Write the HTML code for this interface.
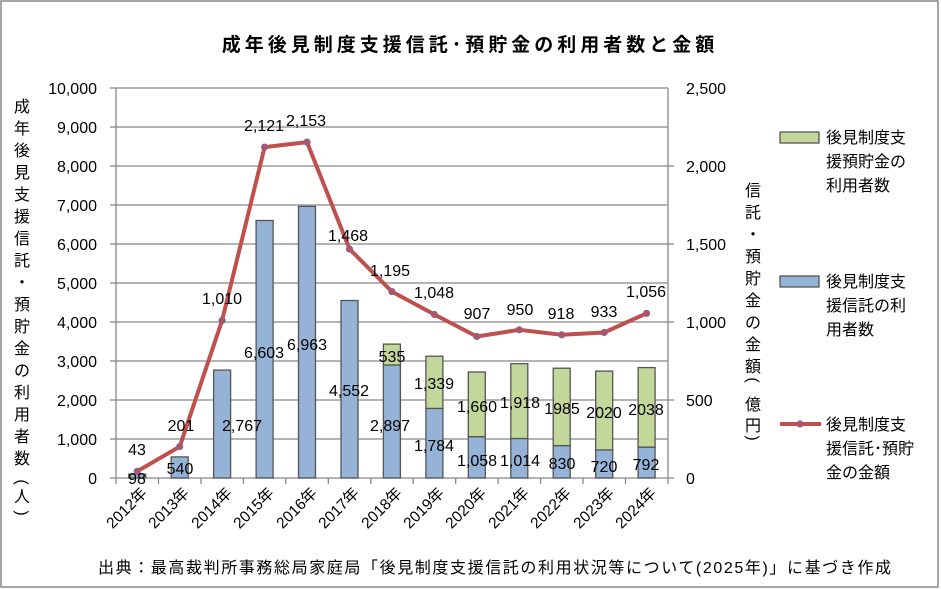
<!DOCTYPE html>
<html><head><meta charset="utf-8"><style>
body{margin:0;background:#fff}
svg{display:block}
text{font-family:"Liberation Sans","Noto Sans CJK JP",sans-serif;fill:#000}
</style></head><body>
<svg width="941" height="589" viewBox="0 0 941 589" xmlns="http://www.w3.org/2000/svg">
<rect x="1" y="1" width="937" height="586" fill="#fff" stroke="#888" stroke-width="1.5"/>
<text x="470" y="51" font-size="19" font-weight="bold" text-anchor="middle" letter-spacing="4">成年後見制度支援信託･預貯金の利用者数と金額</text>
<g stroke="#888" stroke-width="1.3">
<line x1="116" y1="88" x2="668" y2="88"/><line x1="116" y1="127" x2="668" y2="127"/>
<line x1="116" y1="166" x2="668" y2="166"/><line x1="116" y1="205" x2="668" y2="205"/>
<line x1="116" y1="244" x2="668" y2="244"/><line x1="116" y1="283" x2="668" y2="283"/>
<line x1="116" y1="322" x2="668" y2="322"/><line x1="116" y1="361" x2="668" y2="361"/>
<line x1="116" y1="400" x2="668" y2="400"/><line x1="116" y1="439" x2="668" y2="439"/>
<line x1="116" y1="88" x2="116" y2="484"/><line x1="668" y1="88" x2="668" y2="484"/>
<line x1="110" y1="478" x2="674" y2="478"/>
</g>
<g stroke="#888" stroke-width="1.3">
<line x1="110" y1="88" x2="116" y2="88"/><line x1="110" y1="127" x2="116" y2="127"/><line x1="110" y1="166" x2="116" y2="166"/><line x1="110" y1="205" x2="116" y2="205"/><line x1="110" y1="244" x2="116" y2="244"/><line x1="110" y1="283" x2="116" y2="283"/><line x1="110" y1="322" x2="116" y2="322"/><line x1="110" y1="361" x2="116" y2="361"/><line x1="110" y1="400" x2="116" y2="400"/><line x1="110" y1="439" x2="116" y2="439"/>
<line x1="668" y1="166" x2="674" y2="166"/><line x1="668" y1="244" x2="674" y2="244"/><line x1="668" y1="322" x2="674" y2="322"/><line x1="668" y1="400" x2="674" y2="400"/>
<line x1="158.5" y1="478" x2="158.5" y2="484"/><line x1="201" y1="478" x2="201" y2="484"/><line x1="243.4" y1="478" x2="243.4" y2="484"/><line x1="285.8" y1="478" x2="285.8" y2="484"/><line x1="328.3" y1="478" x2="328.3" y2="484"/><line x1="370.8" y1="478" x2="370.8" y2="484"/><line x1="413.2" y1="478" x2="413.2" y2="484"/><line x1="455.7" y1="478" x2="455.7" y2="484"/><line x1="498.1" y1="478" x2="498.1" y2="484"/><line x1="540.6" y1="478" x2="540.6" y2="484"/><line x1="583" y1="478" x2="583" y2="484"/><line x1="625.5" y1="478" x2="625.5" y2="484"/>
</g>
<g font-size="16" text-anchor="end">
<text x="97" y="94">10,000</text><text x="97" y="133">9,000</text><text x="97" y="172">8,000</text><text x="97" y="211">7,000</text><text x="97" y="250">6,000</text><text x="97" y="289">5,000</text><text x="97" y="328">4,000</text><text x="97" y="367">3,000</text><text x="97" y="406">2,000</text><text x="97" y="445">1,000</text><text x="97" y="484">0</text>
</g>
<g font-size="16">
<text x="686" y="94">2,500</text><text x="686" y="172">2,000</text><text x="686" y="250">1,500</text><text x="686" y="328">1,000</text><text x="686" y="406">500</text><text x="686" y="484">0</text>
</g>
<g stroke="#555" stroke-width="1.3">
<rect x="128.7" y="474.2" width="17" height="3.8" fill="#95b3d7"/>
<rect x="171.2" y="456.9" width="17" height="21.1" fill="#95b3d7"/>
<rect x="213.6" y="370.1" width="17" height="107.9" fill="#95b3d7"/>
<rect x="256.1" y="220.5" width="17" height="257.5" fill="#95b3d7"/>
<rect x="298.5" y="206.4" width="17" height="271.6" fill="#95b3d7"/>
<rect x="341" y="300.5" width="17" height="177.5" fill="#95b3d7"/>
<rect x="383.4" y="365" width="17" height="113" fill="#95b3d7"/>
<rect x="383.4" y="344.1" width="17" height="20.9" fill="#c4d79b"/>
<rect x="425.9" y="408.4" width="17" height="69.6" fill="#95b3d7"/>
<rect x="425.9" y="356.2" width="17" height="52.2" fill="#c4d79b"/>
<rect x="468.3" y="436.7" width="17" height="41.3" fill="#95b3d7"/>
<rect x="468.3" y="372" width="17" height="64.7" fill="#c4d79b"/>
<rect x="510.8" y="438.5" width="17" height="39.5" fill="#95b3d7"/>
<rect x="510.8" y="363.7" width="17" height="74.8" fill="#c4d79b"/>
<rect x="553.2" y="445.6" width="17" height="32.4" fill="#95b3d7"/>
<rect x="553.2" y="368.2" width="17" height="77.4" fill="#c4d79b"/>
<rect x="595.7" y="449.9" width="17" height="28.1" fill="#95b3d7"/>
<rect x="595.7" y="371.1" width="17" height="78.8" fill="#c4d79b"/>
<rect x="638.1" y="447.1" width="17" height="30.9" fill="#95b3d7"/>
<rect x="638.1" y="367.6" width="17" height="79.5" fill="#c4d79b"/>
</g>
<polyline fill="none" stroke="#c0504d" stroke-width="4" stroke-linejoin="round" points="137.2,471.3 179.7,446.6 222.1,320.4 264.6,147.1 307,142.1 349.5,249 391.9,291.6 434.4,314.5 476.8,336.5 519.3,329.8 561.7,334.8 604.2,332.5 646.6,313.3"/>
<g fill="#c0504d" stroke="#8064a2" stroke-width="1.2">
<circle cx="137.2" cy="471.3" r="3"/><circle cx="179.7" cy="446.6" r="3"/><circle cx="222.1" cy="320.4" r="3"/><circle cx="264.6" cy="147.1" r="3"/><circle cx="307" cy="142.1" r="3"/><circle cx="349.5" cy="249" r="3"/><circle cx="391.9" cy="291.6" r="3"/><circle cx="434.4" cy="314.5" r="3"/><circle cx="476.8" cy="336.5" r="3"/><circle cx="519.3" cy="329.8" r="3"/><circle cx="561.7" cy="334.8" r="3"/><circle cx="604.2" cy="332.5" r="3"/><circle cx="646.6" cy="313.3" r="3"/>
</g>
<g font-size="16" text-anchor="middle">
<text x="137" y="455">43</text><text x="181" y="431">201</text><text x="222" y="304">1,010</text><text x="264" y="131">2,121</text><text x="306" y="126">2,153</text><text x="348" y="241">1,468</text><text x="390" y="276">1,195</text><text x="434" y="298">1,048</text><text x="477" y="319">907</text><text x="520" y="315">950</text><text x="561" y="319">918</text><text x="604" y="317">933</text><text x="646" y="297">1,056</text>
<text x="137" y="484">98</text><text x="180" y="474">540</text><text x="242" y="431">2,767</text><text x="264" y="358">6,603</text><text x="307" y="350">6,963</text><text x="349" y="396">4,552</text><text x="390" y="431">2,897</text><text x="392" y="362">535</text><text x="434" y="389">1,339</text><text x="434" y="451">1,784</text><text x="477" y="412">1,660</text><text x="477" y="466">1,058</text><text x="520" y="408">1,918</text><text x="520" y="466">1,014</text><text x="562" y="414">1985</text><text x="562" y="469">830</text><text x="604" y="418">2020</text><text x="604" y="472">720</text><text x="646" y="415">2038</text><text x="646" y="470">792</text>
</g>
<g font-size="15.5" text-anchor="end">
<text transform="translate(148,494) rotate(-45)">2012年</text>
<text transform="translate(190,494) rotate(-45)">2013年</text>
<text transform="translate(233,494) rotate(-45)">2014年</text>
<text transform="translate(275,494) rotate(-45)">2015年</text>
<text transform="translate(318,494) rotate(-45)">2016年</text>
<text transform="translate(360,494) rotate(-45)">2017年</text>
<text transform="translate(403,494) rotate(-45)">2018年</text>
<text transform="translate(445,494) rotate(-45)">2019年</text>
<text transform="translate(487,494) rotate(-45)">2020年</text>
<text transform="translate(530,494) rotate(-45)">2021年</text>
<text transform="translate(572,494) rotate(-45)">2022年</text>
<text transform="translate(615,494) rotate(-45)">2023年</text>
<text transform="translate(657,494) rotate(-45)">2024年</text>
</g>
<g font-size="16" text-anchor="middle">
<text x="22" y="112">成</text><text x="22" y="134">年</text><text x="22" y="156">後</text><text x="22" y="178">見</text><text x="22" y="200">支</text><text x="22" y="222">援</text><text x="22" y="244">信</text><text x="22" y="266">託</text><text x="22" y="288">・</text><text x="22" y="310">預</text><text x="22" y="332">貯</text><text x="22" y="354">金</text><text x="22" y="376">の</text><text x="22" y="398">利</text><text x="22" y="420">用</text><text x="22" y="442">者</text><text x="22" y="464">数</text><text transform="translate(17,482) rotate(90)">(</text><text x="22" y="502">人</text><text transform="translate(17,513) rotate(90)">)</text>
</g>
<g font-size="16" text-anchor="middle">
<text x="753" y="196">信</text><text x="753" y="218">託</text><text x="753" y="240">・</text><text x="753" y="262">預</text><text x="753" y="284">貯</text><text x="753" y="306">金</text><text x="753" y="328">の</text><text x="753" y="350">金</text><text x="753" y="372">額</text><text transform="translate(748,380) rotate(90)">(</text><text x="753" y="410">億</text><text x="753" y="431">円</text><text transform="translate(748,438) rotate(90)">)</text>
</g>
<rect x="780" y="132" width="39" height="11" fill="#c4d79b" stroke="#555" stroke-width="1.3"/>
<rect x="780" y="276" width="39" height="11" fill="#95b3d7" stroke="#555" stroke-width="1.3"/>
<line x1="780" y1="424" x2="821" y2="424" stroke="#c0504d" stroke-width="4"/>
<circle cx="800" cy="424" r="3" fill="#c0504d" stroke="#8064a2" stroke-width="1.2"/>
<g font-size="16">
<text x="826" y="143">後見制度支</text><text x="826" y="167">援預貯金の</text><text x="826" y="191">利用者数</text>
<text x="826" y="287">後見制度支</text><text x="826" y="311">援信託の利</text><text x="826" y="335">用者数</text>
<text x="826" y="430">後見制度支</text><text x="826" y="454">援信託･預貯</text><text x="826" y="478">金の金額</text>
</g>
<text x="98" y="573" font-size="16" letter-spacing="1.6">出典：最高裁判所事務総局家庭局「後見制度支援信託の利用状況等について(2025年)」に基づき作成</text>
</svg>
</body></html>
